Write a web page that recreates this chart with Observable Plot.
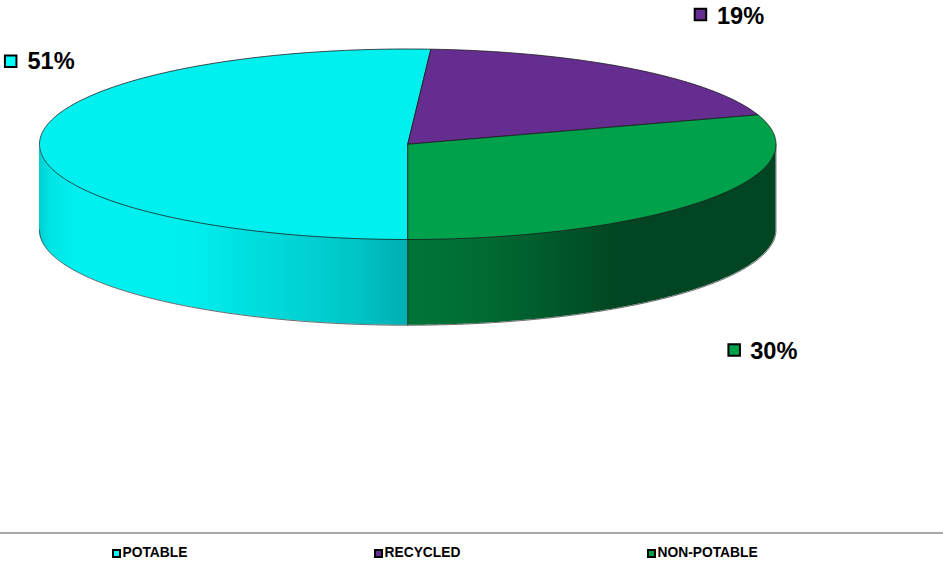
<!DOCTYPE html>
<html>
<head>
<meta charset="utf-8">
<script src="https://cdn.jsdelivr.net/npm/d3@7"></script>
<script src="https://cdn.jsdelivr.net/npm/@observablehq/plot@0.6"></script>
<style>
  html, body { margin: 0; padding: 0; background: #fff; overflow: hidden; }
  #chart svg { display: block; }
  #legend { position: relative; height: 33px; border-top: 2px solid #a8a8a8; font: bold 13.8px "Liberation Sans", Arial, sans-serif; color: #000; }
  #legend .item { position: absolute; top: 10.5px; display: flex; align-items: center; line-height: 16px; }
  #legend .swatch { width: 5px; height: 5px; border: 2px solid #000; margin-right: 1.5px; margin-top: 2px; }
</style>
</head>
<body>
<div id="chart"></div>
<div id="legend"></div>
<script>
// Water sources, share of total in percent
const categories = ["POTABLE", "RECYCLED", "NON-POTABLE"];
const shares = [51, 19, 30];
const topColors = ["#00F0F0", "#662D91", "#00A14B"];
const swatchColors = ["#00FFFF", "#662D91", "#00A14B"];

// Pie is tilted: a unit disc is squashed by the x/y scales; slices start at six o'clock and run clockwise
const startAngle = 180;
const depth = 0.9;
const legendLeft = [112, 374, 647];
const labelOffsets = [
  {text: [-12.2, -80], box: [-29, -80]},
  {text: [83.5, -53], box: [67, -54.5]},
  {text: [44.5, 151], box: [28.5, 149.7]}
];

const rad = (deg) => (deg * Math.PI) / 180;
const onRim = (deg) => ({x: Math.sin(rad(deg)), y: Math.cos(rad(deg))});

// Walk around the circle, turning each share into an angular span
let cursor = startAngle;
const slices = shares.map((share, i) => {
  const from = cursor;
  cursor += (share / 100) * 360;
  return {name: categories[i], share, color: topColors[i], from, to: cursor, mid: (from + cursor) / 2};
});

function arc(from, to) {
  const steps = Math.max(2, Math.ceil(Math.abs(to - from) * 2));
  return d3.range(steps + 1).map((k) => onRim(from + ((to - from) * k) / steps));
}

// Top face of each slice, closed through the centre
const topFaces = slices.flatMap((s) =>
  [{x: 0, y: 0}, ...arc(s.from, s.to), {x: 0, y: 0}].map((p) => ({...p, name: s.name, color: s.color}))
);

// Only the front half of the rim shows a wall
const leftWall = arc(180, 270).sort((a, b) => a.x - b.x);
const rightWall = arc(90, 180).sort((a, b) => a.x - b.x);

function gradient(id, stops) {
  return () => {
    const defs = d3.create("svg:defs");
    const g = defs.append("linearGradient").attr("id", id);
    for (const [offset, color] of stops) g.append("stop").attr("offset", offset).attr("stop-color", color);
    return defs.node();
  };
}

const wallMarks = (points, fill) => [
  Plot.areaY(points, {x: "x", y1: "y", y2: (d) => d.y - depth, fill}),
  Plot.line(points, {x: "x", y: (d) => d.y - depth, stroke: "#222", strokeWidth: 0.8, strokeOpacity: 0.85})
];

const labelMarks = slices.flatMap((s, i) => {
  const anchor = [onRim(s.mid)];
  const off = labelOffsets[i];
  return [
    Plot.dot(anchor, {
      x: "x", y: "y", dx: off.box[0], dy: off.box[1], symbol: "square", r: 6.5,
      fill: swatchColors[i], stroke: "#000", strokeWidth: 2
    }),
    Plot.text(anchor, {
      x: "x", y: "y", dx: off.text[0], dy: off.text[1], text: () => `${s.share}%`,
      textAnchor: "start", fontSize: 23.6, fontWeight: "bold", fontFamily: "Liberation Sans, Arial, sans-serif", fill: "#000"
    })
  ];
});

const chart = Plot.plot({
  width: 943,
  height: 532,
  margin: 0,
  x: {domain: [-1, 1], range: [39, 775.5], axis: null},
  y: {domain: [1, -1], range: [48.5, 239], axis: null},
  marks: [
    gradient("wall-cyan", [[0, "#00CFCF"], [0.03, "#00E4E4"], [0.1, "#00F0F0"], [0.42, "#00EEEE"], [0.6, "#00DCDC"], [0.85, "#00C6C8"], [1, "#00AEB3"]]),
    gradient("wall-green", [[0, "#007539"], [0.2, "#006C33"], [0.4, "#00582B"], [0.57, "#024522"], [1, "#024522"]]),
    ...wallMarks(leftWall, "url(#wall-cyan)"),
    ...wallMarks(rightWall, "url(#wall-green)"),
    Plot.ruleX([0], {y1: -1, y2: -1 - depth, stroke: "#123", strokeWidth: 0.8}),
    Plot.ruleX([1], {y1: 0, y2: -depth, stroke: "#123", strokeWidth: 0.6}),
    Plot.line(topFaces, {x: "x", y: "y", z: "name", fill: "color", stroke: "#1c1c1c", strokeWidth: 0.8, curve: "linear"}),
    ...labelMarks
  ]
});
document.getElementById("chart").append(chart);

// Legend strip under the pie
const legend = d3.select("#legend");
categories.forEach((name, i) => {
  const item = legend.append("div").attr("class", "item").style("left", legendLeft[i] + "px");
  item.append("span").attr("class", "swatch").style("background", swatchColors[i]);
  item.append("span").text(name);
});
</script>
</body>
</html>
